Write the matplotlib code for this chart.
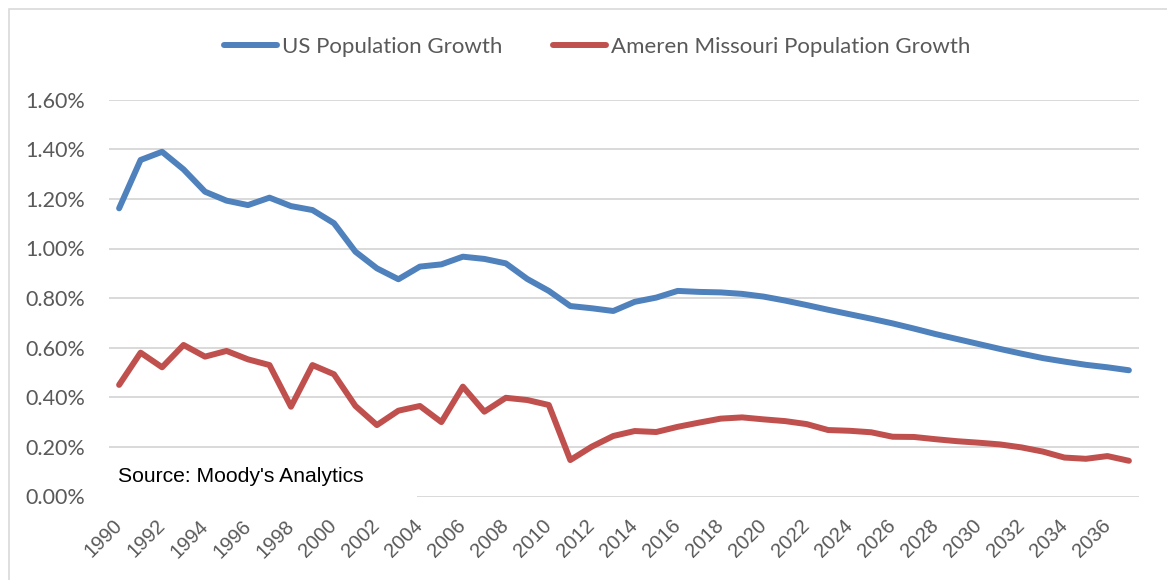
import matplotlib
matplotlib.use("Agg")
import matplotlib.pyplot as plt
from matplotlib.patches import Rectangle
from matplotlib.ticker import FuncFormatter

years = list(range(1990, 2038))

us_growth = [1.162, 1.357, 1.390, 1.319, 1.229, 1.193, 1.175, 1.205, 1.171, 1.155,
             1.102, 0.987, 0.920, 0.876, 0.927, 0.936, 0.967, 0.958, 0.940, 0.877,
             0.829, 0.768, 0.759, 0.748, 0.785, 0.802, 0.829, 0.825, 0.823, 0.817,
             0.806, 0.790, 0.772, 0.753, 0.735, 0.717, 0.698, 0.677, 0.655, 0.635,
             0.615, 0.595, 0.576, 0.558, 0.544, 0.531, 0.521, 0.509]

mo_growth = [0.450, 0.580, 0.521, 0.611, 0.564, 0.587, 0.553, 0.530, 0.362, 0.530,
             0.493, 0.365, 0.288, 0.346, 0.365, 0.300, 0.443, 0.342, 0.398, 0.389,
             0.369, 0.147, 0.201, 0.244, 0.264, 0.260, 0.281, 0.298, 0.314, 0.319,
             0.311, 0.304, 0.292, 0.268, 0.265, 0.259, 0.241, 0.240, 0.231, 0.223,
             0.217, 0.210, 0.198, 0.181, 0.157, 0.152, 0.163, 0.144]

y_ticks = [0.0, 0.2, 0.4, 0.6, 0.8, 1.0, 1.2, 1.4, 1.6]
x_ticks = list(range(1990, 2037, 2))

W, H = 1167, 580
fig = plt.figure(figsize=(W / 100, H / 100), dpi=100)
fig.patch.set_facecolor("white")

# chart frame (only left/top visible in the crop)
fig.add_artist(Rectangle((9 / W, -0.1), 1.2, (H - 9.5) / H + 0.1,
                         transform=fig.transFigure, fill=False,
                         edgecolor="#d9d9d9", linewidth=1.2))

ax = fig.add_axes([109 / W, 83.5 / H, 1030 / W, 396.8 / H])

ax.plot(years, us_growth, color="#4f81bd", linewidth=4.3,
        solid_capstyle="round", solid_joinstyle="round",
        label="US Population Growth", zorder=3)
ax.plot(years, mo_growth, color="#c0504d", linewidth=4.3,
        solid_capstyle="round", solid_joinstyle="round",
        label="Ameren Missouri Population Growth", zorder=3)

ax.set_xlim(1989.53, 2037.47)
ax.set_ylim(0, 1.6)
ax.set_yticks(y_ticks)
ax.yaxis.set_major_formatter(FuncFormatter(lambda v, p: "%.2f%%" % v))
ax.set_xticks(x_ticks)
ax.set_xticklabels([str(y) for y in x_ticks], rotation=45, ha="right",
                   va="center", rotation_mode="anchor")

ax.grid(axis="y", color="#d9d9d9", linewidth=1.4, zorder=0)
ax.set_axisbelow(True)
for s in ax.spines.values():
    s.set_visible(False)
ax.tick_params(axis="both", length=0, colors="#595959")
ax.tick_params(axis="y", pad=17, labelsize=15.5)
ax.tick_params(axis="x", pad=19, labelsize=14.5)
for lbl in ax.get_yticklabels():
    lbl.set_fontfamily("Lato")
for lbl in ax.get_xticklabels():
    lbl.set_fontfamily("Liberation Sans")

# white text box over the base line
ax.add_patch(Rectangle((0, -0.01), (417 - 109) / 1030, 0.1,
                       transform=ax.transAxes, facecolor="white",
                       edgecolor="none", zorder=2, clip_on=False))
fig.text(118 / W, 1 - 476 / H, "Source: Moody's Analytics",
         fontsize=15.2, family="Liberation Sans", color="black",
         va="center", ha="left", zorder=4)

fig.legend(loc="center", bbox_to_anchor=(597 / W, 1 - 47 / H),
           ncol=2, frameon=False, prop={"family": "Lato", "size": 16},
           labelcolor="#595959", handlelength=2.4, handletextpad=0.2,
           columnspacing=2.3)

fig.savefig("out.png", dpi=100)
